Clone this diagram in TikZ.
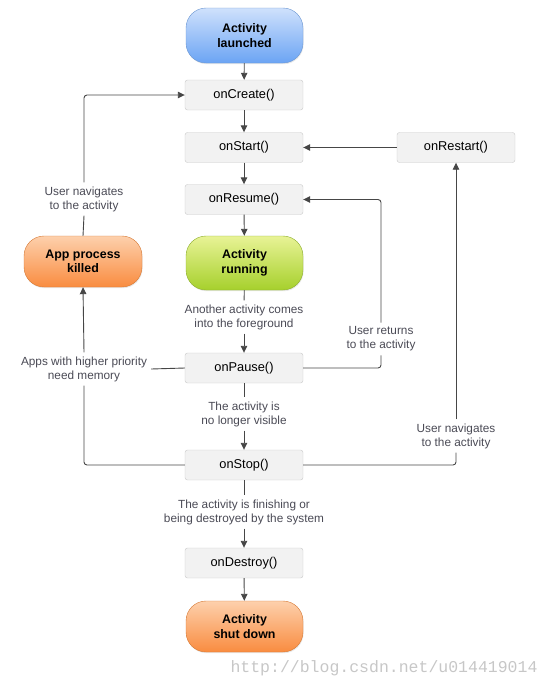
\documentclass[tikz,border=0pt]{standalone}
\usepackage{fontspec}
\setmainfont{Liberation Sans}
\newfontfamily\wmfont{Liberation Mono}
\usetikzlibrary{arrows.meta,shadows}
\definecolor{boxfill}{HTML}{F2F2F2}
\definecolor{boxborder}{HTML}{C8C8C8}
\definecolor{linegray}{HTML}{464646}
\definecolor{labelgray}{HTML}{4A4A55}
\definecolor{bluetop}{HTML}{CFE1FC}
\definecolor{bluebot}{HTML}{6BA4F4}
\definecolor{blueborder}{HTML}{6C97D2}
\definecolor{greentop}{HTML}{E8F396}
\definecolor{greenbot}{HTML}{A6D02C}
\definecolor{greenborder}{HTML}{8DAE2E}
\definecolor{orangetop}{HTML}{FDD0AC}
\definecolor{orangebot}{HTML}{F98C40}
\definecolor{orangeborder}{HTML}{D67A36}
\tikzset{
  x=1pt, y=-1pt,
  box/.style={draw=boxborder, fill=boxfill, rounded corners=2.5pt,
    minimum width=118pt, minimum height=30pt, inner sep=0pt,
    font=\fontsize{12.8}{14}\selectfont, text=black},
  pill/.style={rounded corners=20pt, minimum width=117pt, inner sep=0pt,
    align=center, font=\bfseries\fontsize{12.4}{14.5}\selectfont, text=black,
    drop shadow={opacity=0.18, shadow xshift=0.6pt, shadow yshift=-1.2pt}},
  bluepill/.style={pill, draw=blueborder, top color=bluetop, bottom color=bluebot},
  greenpill/.style={pill, draw=greenborder, top color=greentop, bottom color=greenbot},
  orangepill/.style={pill, draw=orangeborder, top color=orangetop, bottom color=orangebot},
  lbl/.style={align=center, text=labelgray, inner sep=4pt,
    font=\fontsize{11.8}{14}\selectfont},
  conn/.style={draw=linegray, line width=0.9pt, rounded corners=3pt},
  arr/.style={conn, -{Triangle[length=7pt,width=6.5pt]}},
}
\begin{document}
\begin{tikzpicture}
\useasboundingbox (0,0) rectangle (548,691);
% main column
\node[bluepill, minimum height=55pt] (launched) at (244.5,35.5) {Activity\\launched};
\node[box] (onCreate) at (244,95) {onCreate()};
\node[box] (onStart) at (244,147.5) {onStart()};
\node[box] (onRestart) at (456,147.5) {onRestart()};
\node[box] (onResume) at (244,199.5) {onResume()};
\node[greenpill, minimum height=54pt] (running) at (244.5,263) {Activity\\running};
\node[lbl] (lblFore) at (244,317) {Another activity comes\\into the foreground};
\node[box] (onPause) at (244,368) {onPause()};
\node[lbl] (lblVis) at (244,414) {The activity is\\no longer visible};
\node[box] (onStop) at (244,465) {onStop()};
\node[lbl] (lblFin) at (244,512) {The activity is finishing or\\being destroyed by the system};
\node[box] (onDestroy) at (244,563) {onDestroy()};
\node[orangepill, minimum height=51pt] (shutdown) at (244.5,626.5) {Activity\\shut down};
% left column
\node[orangepill, minimum height=51pt, minimum width=118pt] (killed) at (83,261.5) {App process\\killed};
\node[lbl] (lblNav1) at (84,199) {User navigates\\to the activity};
\node[lbl] (lblApps) at (84,369) {Apps with higher priority\\need memory};
% right side labels
\node[lbl] (lblRet) at (381,339) {User returns\\to the activity};
\node[lbl] (lblNav2) at (456,436) {User navigates\\to the activity};
% watermark
\node[text=black!22, font=\wmfont\fontsize{16.5}{18}\selectfont, inner sep=0pt] (wm) at (384,668) {http://blog.csdn.net/u014419014};

% main flow
\draw[arr] (launched) -- (onCreate);
\draw[arr] (onCreate) -- (onStart);
\draw[arr] (onStart) -- (onResume);
\draw[arr] (onResume) -- (running);
\draw[conn] (running) -- (lblFore);
\draw[arr] (lblFore) -- (onPause);
\draw[conn] (onPause) -- (lblVis);
\draw[arr] (lblVis) -- (onStop);
\draw[conn] (onStop) -- (lblFin);
\draw[arr] (lblFin) -- (onDestroy);
\draw[arr] (onDestroy) -- (shutdown);
% restart
\draw[arr] (onRestart) -- (onStart);
\draw[conn] (onStop.east) -| (lblNav2.south);
\draw[arr] (lblNav2.north) -- (onRestart.south);
% resume loop
\draw[conn] (onPause.east) -| (lblRet.south);
\draw[arr] (lblRet.north) |- (onResume.east);
% killed loop
\draw[conn] (onPause.west) -- (lblApps.east);
\draw[conn] (onStop.west) -| (lblApps.south);
\draw[arr] (lblApps.north) -- (killed.south);
\draw[conn] (killed.north) -- (lblNav1.south);
\draw[arr] (lblNav1.north) |- (onCreate.west);
\end{tikzpicture}
\end{document}
